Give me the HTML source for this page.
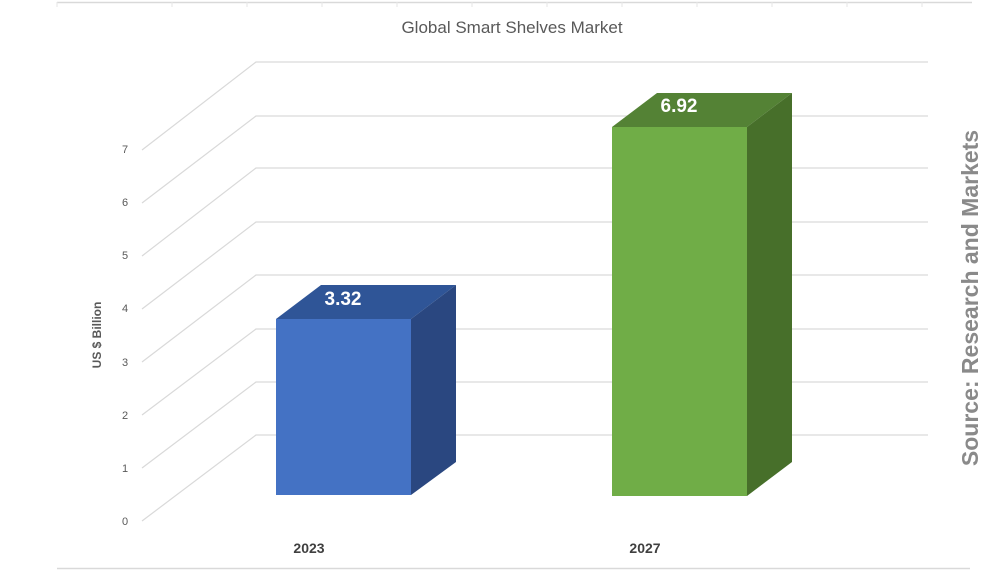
<!DOCTYPE html>
<html><head><meta charset="utf-8"><style>
html,body{margin:0;padding:0;background:#fff;}
svg{display:block;}
</style></head><body>
<svg width="1000" height="570" viewBox="0 0 1000 570" xmlns="http://www.w3.org/2000/svg">
<rect width="1000" height="570" fill="#fff"/>
<line x1="57" y1="2.5" x2="972" y2="2.5" stroke="#d9d9d9" stroke-width="1.5"/>
<g stroke="#e6e6e6" stroke-width="1">
<line x1="57" y1="2" x2="57" y2="7"/><line x1="172" y1="2" x2="172" y2="7"/><line x1="247" y1="2" x2="247" y2="7"/><line x1="322" y1="2" x2="322" y2="7"/><line x1="397" y1="2" x2="397" y2="7"/><line x1="472" y1="2" x2="472" y2="7"/><line x1="547" y1="2" x2="547" y2="7"/><line x1="622" y1="2" x2="622" y2="7"/><line x1="697" y1="2" x2="697" y2="7"/><line x1="772" y1="2" x2="772" y2="7"/><line x1="847" y1="2" x2="847" y2="7"/><line x1="922" y1="2" x2="922" y2="7"/>
</g>
<line x1="57" y1="568.5" x2="970" y2="568.5" stroke="#d9d9d9" stroke-width="1.5"/>
<text x="512" y="33" font-family="Liberation Sans, sans-serif" font-size="17" fill="#595959" text-anchor="middle">Global Smart Shelves Market</text>
<g stroke="#d9d9d9" stroke-width="1.2" fill="none">
<polyline points="142,521 256,435 928,435"/>
<polyline points="142,468 256,382 928,382"/>
<polyline points="142,415 256,329 928,329"/>
<polyline points="142,362 256,275 928,275"/>
<polyline points="142,309 256,222 928,222"/>
<polyline points="142,256 256,168 928,168"/>
<polyline points="142,203 256,116 928,116"/>
<polyline points="142,150 256,62 928,62"/>
</g>
<g font-family="Liberation Sans, sans-serif" font-size="11" fill="#595959" text-anchor="middle">
<text x="125" y="525">0</text><text x="125" y="472">1</text><text x="125" y="419">2</text><text x="125" y="366">3</text><text x="125" y="312">4</text><text x="125" y="259">5</text><text x="125" y="206">6</text><text x="125" y="153">7</text>
</g>
<text transform="translate(101,335) rotate(-90)" font-family="Liberation Sans, sans-serif" font-size="12" font-weight="bold" fill="#595959" text-anchor="middle">US $ Billion</text>
<!-- blue bar -->
<polygon points="276,319 321,285 456,285 411,319" fill="#2f5597"/>
<polygon points="411,319 456,285 456,462 411,495" fill="#2a4780"/>
<rect x="276" y="319" width="135" height="176" fill="#4472c4"/>
<text x="343" y="305" font-family="Liberation Sans, sans-serif" font-size="19" font-weight="bold" fill="#fff" text-anchor="middle">3.32</text>
<!-- green bar -->
<polygon points="612,127 657,93 792,93 747,127" fill="#548235"/>
<polygon points="747,127 792,93 792,462 747,496" fill="#476f2a"/>
<rect x="612" y="127" width="135" height="369" fill="#70ad47"/>
<text x="679" y="112" font-family="Liberation Sans, sans-serif" font-size="19" font-weight="bold" fill="#fff" text-anchor="middle">6.92</text>
<g font-family="Liberation Sans, sans-serif" font-size="14" font-weight="bold" fill="#404040" text-anchor="middle">
<text x="309" y="553">2023</text><text x="645" y="553">2027</text>
</g>
<text transform="translate(978,298) rotate(-90)" font-family="Liberation Sans, sans-serif" font-size="23" font-weight="bold" fill="#8a8a8a" text-anchor="middle">Source: Research and Markets</text>
</svg>
</body></html>
